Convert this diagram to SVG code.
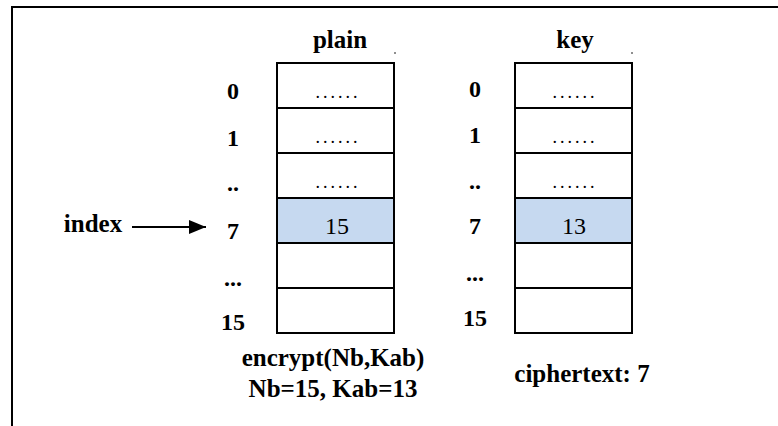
<svg xmlns="http://www.w3.org/2000/svg" width="778" height="426" viewBox="0 0 778 426">
<style>
.lbl{font-family:"Liberation Serif","Times New Roman",serif;font-weight:bold;fill:#000;text-anchor:middle}
.cell{fill:#fff;stroke:#000;stroke-width:2}
.hl{fill:#c6d9f0;stroke:#000;stroke-width:2}
.ctx{font-family:"Liberation Serif","Times New Roman",serif;fill:#000;text-anchor:middle}
.dots{font-family:"Liberation Serif","Times New Roman",serif;font-size:18px;letter-spacing:3px;fill:#000;text-anchor:middle}
</style>
<defs>
<marker id="ah" markerWidth="17" markerHeight="14" refX="17" refY="7" orient="auto" markerUnits="userSpaceOnUse">
<path d="M0,0 L17,7 L0,14 Z" fill="#000"/>
</marker>
</defs>
<rect width="778" height="426" fill="#fff"/>
<path d="M12,426 V7 H778" fill="none" stroke="#000" stroke-width="2"/>

<g id="plain">
<text class="lbl" x="340" y="48" font-size="25">plain</text>
<circle cx="395" cy="53" r="0.8" fill="#000"/>
<rect class="cell" x="277" y="63" width="117" height="45"/>
<rect class="cell" x="277" y="108" width="117" height="45"/>
<rect class="cell" x="277" y="153" width="117" height="45"/>
<rect class="hl" x="277" y="198" width="117" height="45"/>
<rect class="cell" x="277" y="243" width="117" height="45"/>
<rect class="cell" x="277" y="288" width="117" height="45"/>
<text class="dots" x="338" y="98">......</text>
<text class="dots" x="338" y="143">......</text>
<text class="dots" x="338" y="188">......</text>
<text class="ctx" x="337" y="234" font-size="24">15</text>
<text class="lbl" x="233" y="99" font-size="24">0</text>
<text class="lbl" x="233" y="146" font-size="24">1</text>
<text class="lbl" x="233" y="191" font-size="24">..</text>
<text class="lbl" x="233" y="239" font-size="24">7</text>
<text class="lbl" x="233" y="286" font-size="24">...</text>
<text class="lbl" x="233" y="330" font-size="24">15</text>
<text class="lbl" x="333" y="366" font-size="25">encrypt(Nb,Kab)</text>
<text class="lbl" x="333" y="397" font-size="25">Nb=15, Kab=13</text>
</g>

<g id="key">
<text class="lbl" x="575" y="48" font-size="25">key</text>
<circle cx="632" cy="53" r="0.8" fill="#000"/>
<rect class="cell" x="515" y="63" width="117" height="45"/>
<rect class="cell" x="515" y="108" width="117" height="45"/>
<rect class="cell" x="515" y="153" width="117" height="45"/>
<rect class="hl" x="515" y="198" width="117" height="45"/>
<rect class="cell" x="515" y="243" width="117" height="45"/>
<rect class="cell" x="515" y="288" width="117" height="45"/>
<text class="dots" x="575" y="98">......</text>
<text class="dots" x="575" y="143">......</text>
<text class="dots" x="575" y="188">......</text>
<text class="ctx" x="574" y="234" font-size="24">13</text>
<text class="lbl" x="475" y="97" font-size="24">0</text>
<text class="lbl" x="475" y="143" font-size="24">1</text>
<text class="lbl" x="475" y="189" font-size="24">..</text>
<text class="lbl" x="475" y="234" font-size="24">7</text>
<text class="lbl" x="475" y="281" font-size="24">...</text>
<text class="lbl" x="475" y="326" font-size="24">15</text>
<text class="lbl" x="582" y="382" font-size="25">ciphertext: 7</text>
</g>

<g id="index">
<text class="lbl" x="93" y="232" font-size="25">index</text>
</g>

<g id="connectors">
<line x1="132" y1="227" x2="206" y2="227" stroke="#000" stroke-width="2" marker-end="url(#ah)"/>
</g>
</svg>
